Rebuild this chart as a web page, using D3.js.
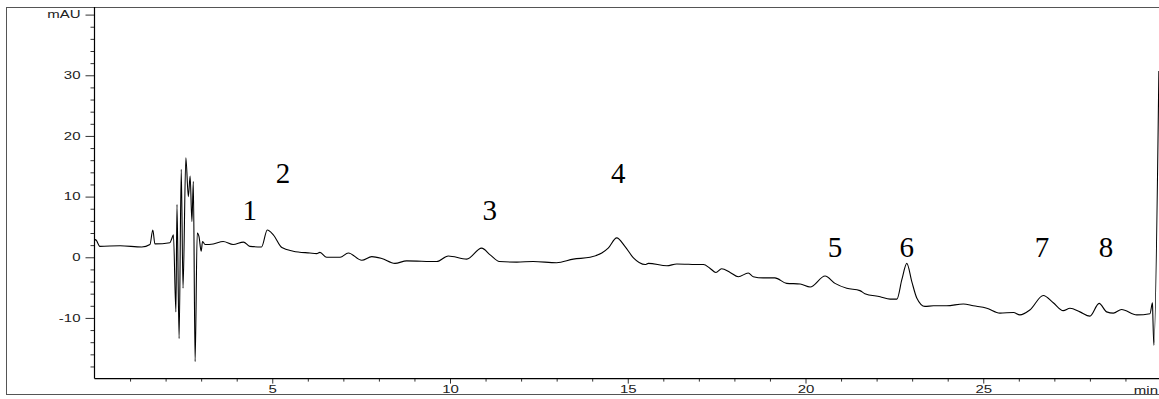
<!DOCTYPE html>
<html>
<head>
<meta charset="utf-8">
<script src="https://cdn.jsdelivr.net/npm/d3@7"></script>
<style>
  body { margin: 0; background: #fff; }
  svg { display: block; }
</style>
</head>
<body>
<svg id="chart" width="1159" height="399"></svg>
<script>
// Retention time (min) and detector response (mAU) of the trace
const timeMin = [
  0.00, 0.03, 0.15, 0.72, 1.33, 1.56, 1.64, 1.70, 2.12, 2.17, 2.22,
  2.29, 2.32, 2.38, 2.44, 2.49, 2.57, 2.64, 2.69, 2.74, 2.78, 2.83,
  2.89, 2.94, 3.00, 3.04, 3.11, 3.34, 3.62, 3.90, 4.19, 4.37, 4.70,
  4.86, 5.03, 5.27, 5.59, 6.06, 6.25, 6.34, 6.53, 6.91, 7.14, 7.52,
  7.80, 8.08, 8.45, 8.78, 9.63, 9.95, 10.47, 10.89, 11.13, 11.39, 11.88,
  12.34, 13.00, 13.47, 13.94, 14.27, 14.45, 14.69, 14.92, 15.16, 15.49, 15.58,
  16.10, 16.38, 17.04, 17.13, 17.31, 17.48, 17.64, 17.88, 18.11, 18.39, 18.53,
  18.81, 19.14, 19.47, 19.85, 20.13, 20.55, 20.83, 21.16, 21.53, 21.67, 22.10,
  22.38, 22.57, 22.71, 22.85, 22.99, 23.13, 23.36, 23.60, 23.97, 24.44, 24.72,
  25.10, 25.47, 25.85, 26.03, 26.31, 26.69, 26.97, 27.25, 27.44, 27.72, 28.00,
  28.26, 28.47, 28.66, 28.89, 29.32, 29.69, 29.76, 29.77, 29.80, 29.94
];
const absorbance = [
  2.7, 2.9, 1.8, 1.9, 1.7, 2.1, 4.5, 2.2, 2.4, 3.0, 3.7,
  -9.0, 8.7, -13.4, 14.5, -5.1, 16.4, 10.0, 13.4, 5.9, 12.5, -17.2,
  4.0, 3.4, 1.0, 2.6, 2.1, 2.2, 2.6, 2.1, 2.5, 1.8, 1.7,
  4.5, 3.7, 1.6, 1.0, 0.7, 0.6, 0.8, 0.0, 0.0, 0.7, -0.5,
  0.1, -0.2, -1.0, -0.6, -0.7, 0.2, -0.3, 1.5, 0.4, -0.7, -0.8,
  -0.7, -0.9, -0.3, 0.0, 0.7, 1.5, 3.2, 1.8, -0.1, -1.2, -1.0,
  -1.4, -1.1, -1.2, -1.2, -1.8, -2.5, -1.9, -2.5, -3.2, -2.6, -3.2,
  -3.4, -3.4, -4.3, -4.4, -4.9, -3.1, -4.3, -5.1, -5.5, -6.0, -6.5,
  -6.9, -6.9, -3.7, -1.0, -4.0, -6.7, -8.1, -8.0, -8.0, -7.7, -8.0,
  -8.4, -9.2, -9.1, -9.5, -8.7, -6.3, -7.5, -8.8, -8.4, -9.0, -9.7,
  -7.6, -9.0, -9.2, -8.6, -9.5, -9.3, -7.5, -9.5, -14.5, 30.7
];

// Axis ticks
const xMajorTicks = [5, 10, 15, 20, 25];
const xMinorTicks = d3.range(1, 30).filter(t => t % 5 !== 0);
const yMajorTicks = [-10, 0, 10, 20, 30, 40];
const yMinorTicks = d3.range(-18, 41, 2).filter(v => v % 10 !== 0);
const yUnitLabel = "mAU";
const xUnitLabel = "min";

// Peak numbering placed above the trace
const peakNames = ["1", "2", "3", "4", "5", "6", "7", "8"];
const peakLabelTime = [4.37, 5.30, 11.12, 14.73, 20.83, 22.85, 26.65, 28.45];
const peakLabelLevel = [6.2, 12.3, 6.2, 12.3, 0.1, 0.1, 0.1, 0.1];

const W = 1159, H = 399;
const svg = d3.select("#chart");

const x = d3.scaleLinear().domain([0, 30]).range([94.5, 1161]);
const y = d3.scaleLinear().domain([-20, 40]).range([378.6, 14.6]);
const axisTop = 7;
const hScale = 1.5; // the instrument font is drawn wide

// outer frame
svg.append("rect")
  .attr("x", 6.5).attr("y", 7.5)
  .attr("width", 1160).attr("height", 387)
  .attr("fill", "none").attr("stroke", "#555").attr("stroke-width", 1);

// clip region for the trace
svg.append("clipPath").attr("id", "plotClip")
  .append("rect").attr("x", x(0)).attr("y", axisTop)
  .attr("width", W - x(0)).attr("height", y(-20) - axisTop);

// Y axis: minor ticks
const yMinor = svg.append("g")
  .attr("transform", `translate(${x(0)},0)`)
  .call(d3.axisLeft(y).tickValues(yMinorTicks).tickSize(4).tickFormat(""));
yMinor.select(".domain").remove();

// Y axis: major ticks with labels
const yMajor = svg.append("g")
  .attr("transform", `translate(${x(0)},0)`)
  .call(d3.axisLeft(y).tickValues(yMajorTicks).tickSize(9).tickPadding(5)
    .tickFormat(d => d === 40 ? yUnitLabel : d));
yMajor.select(".domain").remove();
yMajor.selectAll("text")
  .attr("x", -14 / hScale)
  .attr("transform", `scale(${hScale},1)`)
  .attr("font-family", "'Liberation Sans', Arial, sans-serif")
  .attr("font-size", 10)
  .attr("fill", "#222");

// X axis: minor ticks
const xMinor = svg.append("g")
  .attr("transform", `translate(0,${y(-20)})`)
  .call(d3.axisBottom(x).tickValues(xMinorTicks).tickSize(3).tickFormat(""));
xMinor.select(".domain").remove();

// X axis: major ticks with labels
const xMajor = svg.append("g")
  .attr("transform", `translate(0,${y(-20)})`)
  .call(d3.axisBottom(x).tickValues(xMajorTicks).tickSize(5).tickPadding(2));
xMajor.select(".domain").remove();
xMajor.selectAll("text")
  .attr("transform", `scale(${hScale},1)`)
  .attr("font-family", "'Liberation Sans', Arial, sans-serif")
  .attr("font-size", 10)
  .attr("fill", "#222");

svg.selectAll(".tick line").attr("stroke", "#333");

// axis lines
svg.append("line")
  .attr("x1", x(0)).attr("x2", x(0))
  .attr("y1", axisTop).attr("y2", y(-20))
  .attr("stroke", "#000").attr("stroke-width", 1.2);
svg.append("line")
  .attr("x1", x(0)).attr("x2", W)
  .attr("y1", y(-20)).attr("y2", y(-20))
  .attr("stroke", "#000").attr("stroke-width", 1.2);

// x unit label
svg.append("text")
  .attr("transform", `translate(${W - 1},${y(-20) + 15}) scale(${hScale},1)`)
  .attr("text-anchor", "end")
  .attr("font-family", "'Liberation Sans', Arial, sans-serif")
  .attr("font-size", 10)
  .attr("fill", "#222")
  .text(xUnitLabel);

// chromatogram trace
const points = timeMin.map((t, i) => [t, absorbance[i]]);
svg.append("path")
  .datum(points)
  .attr("clip-path", "url(#plotClip)")
  .attr("fill", "none")
  .attr("stroke", "#000")
  .attr("stroke-width", 1.1)
  .attr("stroke-linejoin", "round")
  .attr("d", d3.line()
    .x(d => x(d[0]))
    .y(d => y(d[1]))
    .curve(d3.curveMonotoneX));

// peak numbers
svg.append("g").selectAll("text")
  .data(peakNames)
  .join("text")
  .attr("x", (d, i) => x(peakLabelTime[i]))
  .attr("y", (d, i) => y(peakLabelLevel[i]))
  .attr("text-anchor", "middle")
  .attr("font-family", "'Liberation Serif', 'Times New Roman', serif")
  .attr("font-size", 29)
  .attr("fill", "#000")
  .text(d => d);
</script>
</body>
</html>
